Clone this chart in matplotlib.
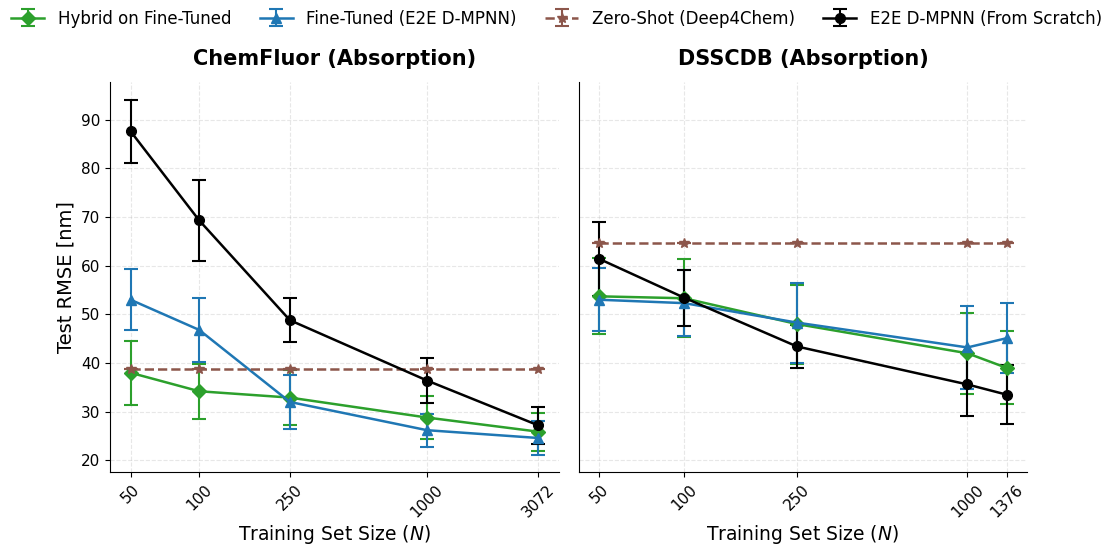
import matplotlib
matplotlib.use("Agg")
import matplotlib.pyplot as plt
from matplotlib.ticker import NullLocator

# training set sizes
sizes_chemfluor = [50, 100, 250, 1000, 3072]
sizes_dsscdb = [50, 100, 250, 1000, 1376]

# ChemFluor absorption RMSE (mean, std)
cf_hybrid = [38.0, 34.2, 32.9, 28.8, 25.9]
cf_hybrid_err = [6.6, 5.7, 5.7, 4.4, 3.9]
cf_finetuned = [53.0, 46.8, 32.0, 26.2, 24.6]
cf_finetuned_err = [6.3, 6.5, 5.5, 3.4, 3.4]
cf_zeroshot = 38.7
cf_scratch = [87.6, 69.3, 48.8, 36.4, 27.2]
cf_scratch_err = [6.5, 8.3, 4.5, 4.7, 3.8]

# DSSCDB absorption RMSE (mean, std)
ds_hybrid = [53.7, 53.3, 48.0, 42.0, 39.0]
ds_hybrid_err = [7.8, 8.0, 8.1, 8.3, 7.5]
ds_finetuned = [53.0, 52.3, 48.3, 43.2, 45.1]
ds_finetuned_err = [6.5, 6.8, 8.2, 8.5, 7.2]
ds_zeroshot = 64.7
ds_scratch = [61.4, 53.4, 43.4, 35.6, 33.5]
ds_scratch_err = [7.6, 5.8, 4.4, 6.4, 6.0]

labels = ["Hybrid on Fine-Tuned", "Fine-Tuned (E2E D-MPNN)",
          "Zero-Shot (Deep4Chem)", "E2E D-MPNN (From Scratch)"]

plt.rcParams["font.family"] = "DejaVu Sans"

fig, axes = plt.subplots(1, 2, figsize=(11.02, 5.46), dpi=100, sharey=True)
fig.subplots_adjust(left=0.1, right=0.932, top=0.85, bottom=0.135, wspace=0.045)

panels = [
    (axes[0], "ChemFluor (Absorption)", sizes_chemfluor,
     cf_hybrid, cf_hybrid_err, cf_finetuned, cf_finetuned_err,
     cf_zeroshot, cf_scratch, cf_scratch_err),
    (axes[1], "DSSCDB (Absorption)", sizes_dsscdb,
     ds_hybrid, ds_hybrid_err, ds_finetuned, ds_finetuned_err,
     ds_zeroshot, ds_scratch, ds_scratch_err),
]

kw = dict(capsize=5, capthick=1.5, linewidth=1.8, markersize=7, elinewidth=1.5)

for ax, title, n, hy, hy_e, ft, ft_e, zs, sc, sc_e in panels:
    ax.errorbar(n, hy, yerr=hy_e, color="#2ca02c", marker="D", label=labels[0], **kw)
    ax.errorbar(n, ft, yerr=ft_e, color="#1f77b4", marker="^", label=labels[1], **kw)
    ax.errorbar(n, [zs] * len(n), yerr=[0] * len(n), color="#8c564b", marker="*",
                linestyle="--", label=labels[2], **kw)
    ax.errorbar(n, sc, yerr=sc_e, color="black", marker="o", label=labels[3], **kw)

    ax.set_xscale("log")
    ax.set_xticks(n)
    ax.set_xticklabels([str(v) for v in n], rotation=45, fontsize=11)
    ax.xaxis.set_minor_locator(NullLocator())
    ax.tick_params(axis="y", labelsize=11)
    ax.set_title(title, fontsize=15, fontweight="bold", pad=12)
    ax.set_xlabel("Training Set Size ($N$)", fontsize=13.5, labelpad=2)
    ax.grid(True, linestyle="--", alpha=0.3)
    ax.spines["top"].set_visible(False)
    ax.spines["right"].set_visible(False)

axes[0].set_ylabel("Test RMSE [nm]", fontsize=14)
axes[0].set_yticks([20, 30, 40, 50, 60, 70, 80, 90])
axes[1].tick_params(axis="y", left=False)

handles, leg_labels = axes[0].get_legend_handles_labels()
fig.legend(handles, leg_labels, loc="upper center", ncol=4, frameon=False,
           fontsize=12, bbox_to_anchor=(0.505, 1.01), columnspacing=1.7)

fig.savefig("out.png", dpi=100)
